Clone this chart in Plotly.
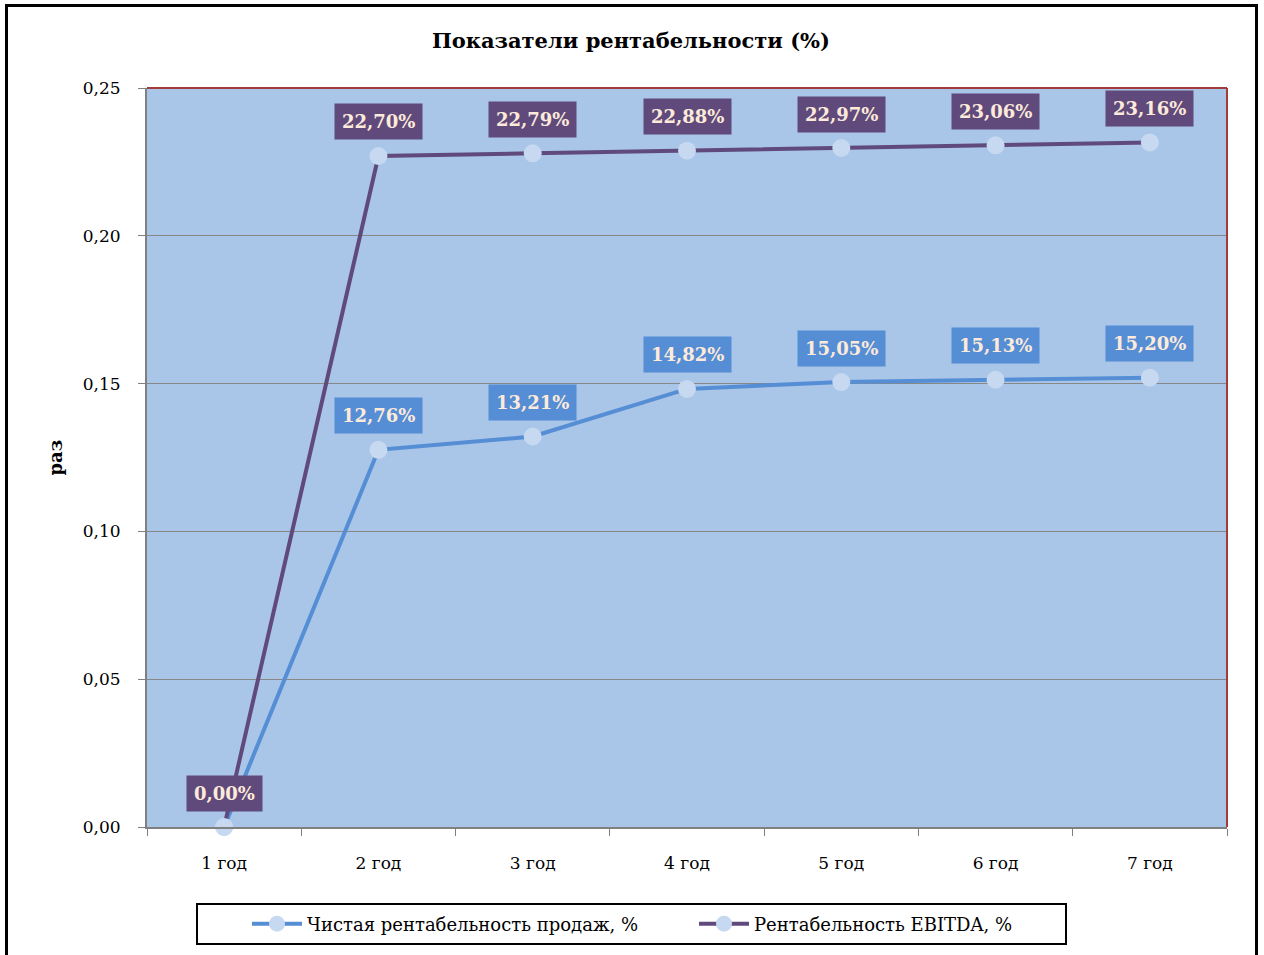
import plotly.graph_objects as go

categories = ["1 год", "2 год", "3 год", "4 год", "5 год", "6 год", "7 год"]
net_margin = [0.0, 0.1276, 0.1321, 0.1482, 0.1505, 0.1513, 0.1520]
ebitda_margin = [0.0, 0.2270, 0.2279, 0.2288, 0.2297, 0.2306, 0.2316]
series_names = ["Чистая рентабельность продаж, %", "Рентабельность EBITDA, %"]
y_ticks = [0, 0.05, 0.10, 0.15, 0.20, 0.25]

BLUE = "#558ED5"
PURPLE = "#604A7B"
MARKER = "#C6D9F1"
LABEL_TXT = "#FDEADA"
FONT = "DejaVu Serif"

W, H = 1264, 955
L, T, R, B = 147, 88, 37, 128
PX0, PY0, PW, PH = 147, 88, 1080, 739  # plot area in page pixels

def px(xp):
    return (xp - PX0) / PW

def py(yp):
    return (PY0 + PH - yp) / PH

fig = go.Figure()
for name, vals, col in [(series_names[0], net_margin, BLUE), (series_names[1], ebitda_margin, PURPLE)]:
    fig.add_trace(go.Scatter(
        x=categories, y=vals, name=name, mode="lines+markers", cliponaxis=False,
        line=dict(color=col, width=4),
        marker=dict(size=18, color=MARKER, line=dict(width=0)),
    ))

def fmt(v):
    return f"{v*100:.2f}%".replace(".", ",")

annotations = []
for vals, col, skip_zero in [(net_margin, BLUE, True), (ebitda_margin, PURPLE, False)]:
    for c, v in zip(categories, vals):
        if skip_zero and v == 0:
            continue
        annotations.append(dict(
            x=c, y=v, xref="x", yref="y", text=fmt(v), showarrow=False,
            yshift=34, bgcolor=col, borderpad=7,
            font=dict(family=FONT, size=18, color=LABEL_TXT, weight="bold"),
        ))

annotations.append(dict(
    x=px(55), y=0.5, xref="paper", yref="paper", text="раз", textangle=-90,
    xanchor="center", yanchor="middle",
    showarrow=False, font=dict(family=FONT, size=18, color="black", weight="bold"),
))

shapes = [
    # outer frame
    dict(type="rect", xref="paper", yref="paper", x0=px(6.5), x1=px(1256.5), y0=py(975), y1=py(5.5),
         line=dict(color="black", width=3), fillcolor="rgba(0,0,0,0)", layer="below"),
    # red top/right borders
    dict(type="line", xref="paper", yref="paper", x0=0, x1=1, y0=1, y1=1,
         line=dict(color="#A33B3B", width=2)),
    dict(type="line", xref="paper", yref="paper", x0=1, x1=1, y0=0, y1=1,
         line=dict(color="#A33B3B", width=2)),
    # legend box
    dict(type="rect", xref="paper", yref="paper", x0=px(197), x1=px(1066),
         y0=py(944), y1=py(904), line=dict(color="black", width=2),
         fillcolor="white", layer="below"),
]

fig.update_layout(
    width=W, height=H,
    margin=dict(l=L, r=R, t=T, b=B),
    paper_bgcolor="white", plot_bgcolor="#A9C5E8",
    separators=", ",
    font=dict(family=FONT, size=17, color="black"),
    title=dict(text="<b>Показатели рентабельности (%)</b>", x=px(631), xref="paper", xanchor="center",
               y=1 - 41/H, yanchor="middle", font=dict(family=FONT, size=21, color="black")),
    showlegend=True,
    legend=dict(orientation="h", x=px(247), xanchor="left", y=py(924), yanchor="middle",
                font=dict(family=FONT, size=18), entrywidth=382, entrywidthmode="pixels",
                bgcolor="rgba(0,0,0,0)", borderwidth=0, itemwidth=50),
    xaxis=dict(type="category", range=[-0.5, 6.5], tickson="boundaries", ticks="outside", ticklen=7,
               tickcolor="#808080", showline=True, linecolor="#808080", linewidth=2,
               showgrid=False, ticklabelstandoff=20, tickfont=dict(size=17)),
    yaxis=dict(range=[0, 0.25], tickvals=y_ticks, tickformat=".2f", ticks="outside", ticklen=7,
               tickcolor="#808080", showline=True, linecolor="#808080", linewidth=2,
               gridcolor="#878787", gridwidth=1, ticklabelstandoff=14, zeroline=False,
               tickfont=dict(size=17)),
    annotations=annotations, shapes=shapes,
)

fig.write_html("out.html", config={"displayModeBar": False},
               post_script="document.body.style.margin='0';document.body.style.overflow='hidden';")
